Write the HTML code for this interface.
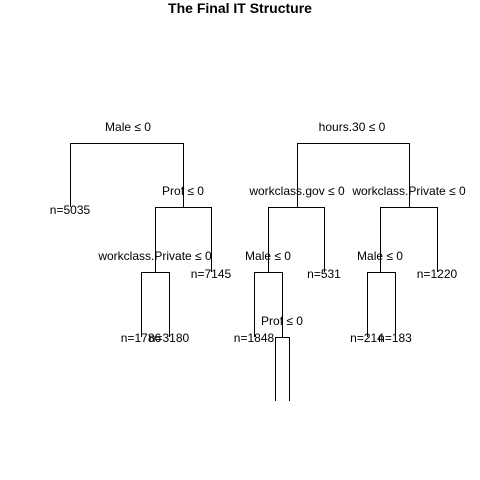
<!DOCTYPE html>
<html><head><meta charset="utf-8"><style>
html,body{margin:0;padding:0;background:#fff;}
svg{display:block;}
text{font-family:"Liberation Sans",Arial,sans-serif;font-size:12px;fill:#000;}
</style></head><body>
<svg width="480" height="480" viewBox="0 0 480 480" xmlns="http://www.w3.org/2000/svg">
<rect width="480" height="480" fill="#fff"/>
<text x="240" y="13" text-anchor="middle" style="font-weight:bold;font-size:14px">The Final IT Structure</text>
<g stroke="#000" stroke-width="1" fill="none" shape-rendering="crispEdges">
<!-- left tree -->
<polyline points="70.5,207 70.5,143.5 183.5,143.5 183.5,207"/>
<polyline points="155.5,272 155.5,207.5 211.5,207.5 211.5,272"/>
<polyline points="141.5,337 141.5,272.5 169.5,272.5 169.5,337"/>
<!-- right tree -->
<polyline points="297.5,207 297.5,143.5 409.5,143.5 409.5,207"/>
<polyline points="268.5,272 268.5,207.5 324.5,207.5 324.5,272"/>
<polyline points="380.5,272 380.5,207.5 437.5,207.5 437.5,272"/>
<polyline points="254.5,337 254.5,272.5 282.5,272.5 282.5,337"/>
<polyline points="367.5,337 367.5,272.5 395.5,272.5 395.5,337"/>
<polyline points="275.5,401 275.5,337.5 289.5,337.5 289.5,401"/>
</g>
<g text-anchor="middle">
<text x="128" y="131">Male ≤ 0</text>
<text x="183" y="195">Prof ≤ 0</text>
<text x="155" y="260">workclass.Private ≤ 0</text>
<text x="70" y="214">n=5035</text>
<text x="211" y="278">n=7145</text>
<text x="141" y="342">n=1786</text>
<text x="169" y="342">n=3180</text>
<text x="352" y="131">hours.30 ≤ 0</text>
<text x="297" y="195">workclass.gov ≤ 0</text>
<text x="409" y="195">workclass.Private ≤ 0</text>
<text x="268" y="260">Male ≤ 0</text>
<text x="380" y="260">Male ≤ 0</text>
<text x="324" y="278">n=531</text>
<text x="437" y="278">n=1220</text>
<text x="282" y="325">Prof ≤ 0</text>
<text x="254" y="342">n=1848</text>
<text x="367" y="342">n=214</text>
<text x="395" y="342">n=183</text>
</g>
</svg>
</body></html>
